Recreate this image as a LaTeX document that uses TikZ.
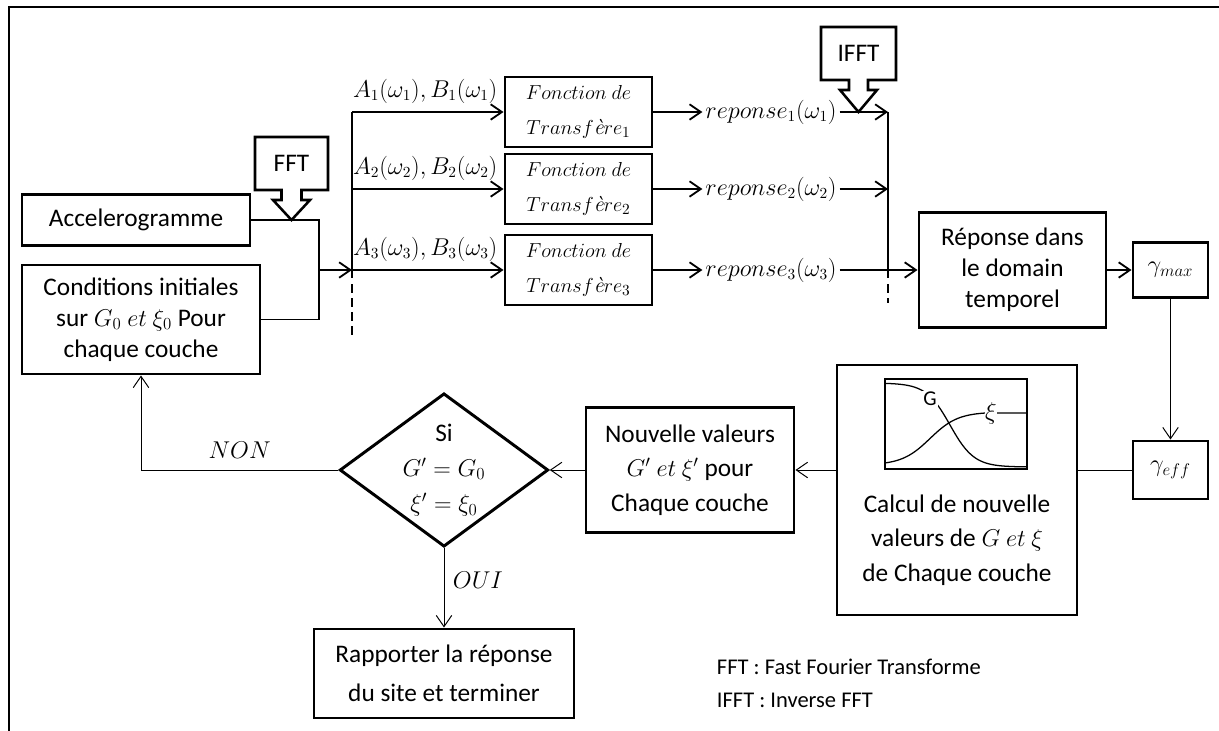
\documentclass[tikz,border=0pt]{standalone}
\usepackage{fontspec}
\setmainfont{Carlito}
\newfontfamily\lmfam{Latin Modern Roman}
\usetikzlibrary{arrows.meta, shapes.geometric}
\tikzset{>={Straight Barb[length=8pt,width=11pt]}}
\tikzset{
  boite/.style={draw, line width=2.1pt, fill=white, align=center, inner sep=2pt},
  taille/.style 2 args={minimum width=#1*0.025cm, minimum height=#2*0.025cm},
  lien/.style={line width=1.3pt},
  fin/.style={line width=0.7pt},
  etiq/.style={font=\fontsize{16}{19}\selectfont, inner sep=2pt},
  appel/.style={draw, line width=1.8pt, fill=white, line join=miter},
}

\begin{document}
\begin{tikzpicture}[x=0.025cm, y=-0.025cm, font=\fontsize{18}{22}\selectfont]
\useasboundingbox (0,0) rectangle (1219,731);
\draw[line width=2pt] (9,731) -- (9,7) -- (1219,7);

% entrees
\node[boite, taille={228}{51}] (accel) at (136,220) {Accelerogramme};
\node[boite, taille={238}{109}] (cond) at (141,319.5) {Conditions initiales\\sur $G_0$ $et$ $\xi_0$ Pour\\chaque couche};
\coordinate (j1) at (319,220);
\coordinate (j2) at (319,319.5);
\coordinate (j3) at (319,270);
\draw[lien] (accel) -- (j1) -- (j2) -- (cond);

% trois frequences
\coordinate (busbas) at (352,337);
\foreach \i/\y in {1/112,2/189,3/270}{
  \coordinate (bus\i) at (352,\y);
  \coordinate (rb\i) at (888,\y);
  \node[boite, taille={147}{70}, font=\fontsize{15.5}{24.5}\selectfont] (fonc\i) at (578.5,\y) {$Fonction\ de$\\$Transf\mbox{\lmfam\itshape è}re_\i$};
  \node[etiq, anchor=west] (coef\i) at (350,\y-21) {$A_\i(\omega_\i),B_\i(\omega_\i)$};
  \node[etiq] (resp\i) at (771,\y) {$reponse_\i(\omega_\i)$};
  \draw[lien,->] (bus\i) -- (fonc\i);
  \draw[lien,->] (fonc\i) -- (resp\i);
}
\draw[lien,->] (j3) -- (bus3);
\draw[lien] (bus1) -- (bus3);
\draw[lien, dash pattern=on 6pt off 4pt] (bus3) -- (busbas);

% retour temporel
\coordinate (rbbas) at (888,303);
\node[boite, taille={187}{115}] (tempo) at (1012.5,270) {Réponse dans\\le domain\\temporel};
\node[boite, taille={75}{55}] (gmax) at (1170.5,270) {$\gamma_{max}$};
\node[boite, taille={75}{58}] (geff) at (1170.5,470) {$\gamma_{eff}$};
\draw[lien,->] (resp1) -- (rb1);
\draw[lien,->] (resp2) -- (rb2);
\draw[lien] (rb1) -- (rb3);
\draw[lien, dash pattern=on 6pt off 4pt] (rb3) -- (rbbas);
\draw[lien,->] (resp3) -- (tempo);
\draw[lien,->] (tempo) -- (gmax);
\draw[fin,->] (gmax) -- (geff);

% calcul G et xi
\node[boite, taille={240}{250}] (calc) at (957,490) {};
\draw[line width=0.9pt] (885,379) rectangle (1027,469);
\draw[line width=0.9pt] plot[domain=885:1027, samples=80, smooth] (\x,{383+84/(1+exp(-(\x-950)/12))});
\draw[line width=0.9pt] plot[domain=885:985, samples=60, smooth] (\x,{465-53/(1+exp(-(\x-930)/14))}) -- (1027,413);
\node[fill=white, inner sep=1pt, font=\fontsize{15}{15}\selectfont] (gG) at (930,399) {G};
\node[fill=white, inner sep=0.5pt] (gxi) at (991,413) {$\xi$};
\node[font=\fontsize{18}{24.5}\selectfont, align=center] (calctxt) at (957,540) {Calcul de nouvelle\\valeurs de $G$ $et$ $\xi$\\de Chaque couche};
\draw[fin] (geff) -- (calc.east |- geff);

% boucle
\node[boite, taille={208}{125}, font=\fontsize{18}{24.5}\selectfont] (nouv) at (690,470) {Nouvelle valeurs\\$G'$ $et$ $\xi'$ pour\\Chaque couche};
\node[boite, diamond, taille={202}{148}, inner sep=0pt, shape aspect=1.36, font=\fontsize{18}{25}\selectfont] (diam) at (444,470) {Si\\$G' = G_0$\\$\xi' = \xi_0$};
\node[boite, taille={260}{89}, font=\fontsize{18}{28}\selectfont] (rapp) at (444,673.5) {Rapporter la réponse\\du site et terminer};
\draw[fin,->] (calc.west |- nouv) -- (nouv);
\draw[fin,->] (nouv) -- (diam);
\draw[fin,->] (diam) -| node[pos=0.25, above=6pt, etiq] (non) {$NON$} (cond);
\draw[fin,->] (diam) -- node[pos=0.4, right=4pt, etiq] (oui) {$OUI$} (rapp);

% legende
\node[anchor=west, font=\fontsize{16}{19}\selectfont] (leg1) at (712,667) {FFT : Fast Fourier Transforme};
\node[anchor=west, font=\fontsize{16}{19}\selectfont] (leg2) at (712,700) {IFFT : Inverse FFT};

% fleches FFT et IFFT
\draw[appel] (255,137) -- (328,137) -- (328,190) -- (301.5,190) -- (301.5,200) -- (310,200) -- (291.5,220)
  -- (273,200) -- (281.5,200) -- (281.5,190) -- (255,190) -- cycle;
\node (fft) at (291.5,163) {FFT};
\draw[appel] (821,27) -- (896,27) -- (896,80) -- (868,80) -- (868,90) -- (877,90) -- (858.5,112)
  -- (840,90) -- (849,90) -- (849,80) -- (821,80) -- cycle;
\node (ifft) at (858.5,53) {IFFT};
\end{tikzpicture}
\end{document}
